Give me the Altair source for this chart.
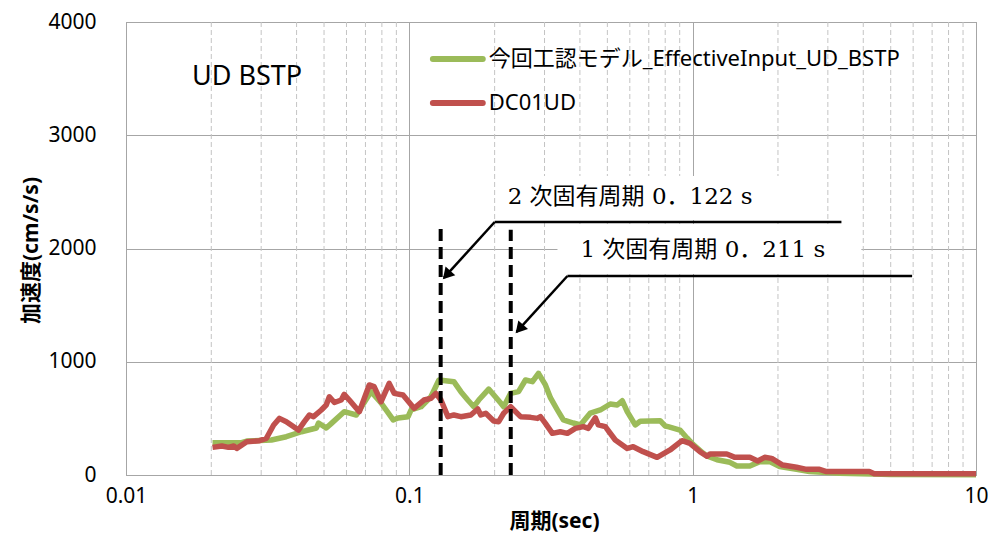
import altair as alt
import pandas as pd

# ---------------- data ----------------
green_period = [0.0202, 0.0256, 0.0267, 0.0326, 0.0368, 0.0416, 0.0470, 0.0478, 0.0509,
                0.0531, 0.0589, 0.0650, 0.0733, 0.0795, 0.0877, 0.0913, 0.0990, 0.1014,
                0.110, 0.1192, 0.1272, 0.1436, 0.1520, 0.1608, 0.1688, 0.1758, 0.1906,
                0.2101, 0.2153, 0.2278, 0.2429, 0.2570, 0.2720, 0.2856, 0.3022, 0.3150,
                0.3331, 0.3496, 0.3792, 0.4015, 0.4354, 0.4722, 0.5119, 0.5418, 0.5642,
                0.5875, 0.6269, 0.6528, 0.7674, 0.7992, 0.8188, 0.9022, 0.955, 1.0025,
                1.087, 1.123, 1.218, 1.353, 1.432, 1.591, 1.725, 1.870, 2.028, 2.326,
                2.585, 3.296, 4.305, 5.0, 10.0]
green_accel = [285, 285, 300, 309, 338, 382, 415, 459, 415,
               456, 559, 530, 736, 636, 486, 503, 515, 574,
               603, 691, 839, 824, 736, 662, 603, 662, 759,
               636, 603, 721, 736, 839, 824, 898, 795, 680,
               574, 486, 459, 442, 547, 574, 627, 618, 656,
               559, 442, 475, 480, 433, 427, 397, 327, 270,
               194, 168, 135, 112, 80, 80, 118, 118, 74, 50,
               30, 15, 8, 4, 3]

red_period = [0.0202, 0.0218, 0.0230, 0.0240, 0.0246, 0.0267, 0.0296, 0.0313, 0.0332,
              0.0348, 0.0368, 0.0406, 0.0426, 0.0444, 0.0459, 0.0489, 0.0509, 0.0522,
              0.0544, 0.0575, 0.0589, 0.0614, 0.0666, 0.0722, 0.0751, 0.0795, 0.0849,
              0.0884, 0.0950, 0.1039, 0.1126, 0.1192, 0.1241, 0.1293, 0.1368, 0.1436,
              0.1520, 0.1648, 0.1744, 0.1787, 0.1861, 0.1985, 0.2067, 0.2153, 0.2278,
              0.2469, 0.2679, 0.2833, 0.2902, 0.3022, 0.3198, 0.3412, 0.3612, 0.3853,
              0.4114, 0.4284, 0.4534, 0.4645, 0.4916, 0.5331, 0.5875, 0.6169, 0.6688,
              0.7489, 0.8323, 0.9171, 0.978, 1.061, 1.123, 1.151, 1.320, 1.409, 1.591,
              1.697, 1.795, 1.900, 2.078, 2.326, 2.523, 2.803, 2.967, 4.202, 4.375, 10.0]
red_accel = [244, 256, 244, 256, 235, 294, 303, 324, 442,
             500, 471, 397, 471, 530, 515, 574, 618, 691,
             640, 662, 712, 662, 559, 795, 780, 647, 809,
             721, 706, 589, 662, 677, 721, 662, 515, 530,
             515, 530, 583, 530, 545, 477, 471, 545, 603,
             515, 509, 500, 515, 456, 368, 382, 368, 412,
             427, 412, 505, 442, 427, 309, 235, 250, 206,
             156, 221, 303, 280, 206, 165, 185, 185, 156, 156,
             124, 156, 147, 88, 68, 50, 50, 30, 30, 10, 10]

series_names = ["今回工認モデル_EffectiveInput_UD_BSTP", "DC01UD"]
series_colors = ["#9BBB59", "#C0504D"]

x_major = [0.01, 0.1, 1, 10]
x_minor = [0.02, 0.03, 0.04, 0.05, 0.06, 0.07, 0.08, 0.09,
           0.2, 0.3, 0.4, 0.5, 0.6, 0.7, 0.8, 0.9,
           2, 3, 4, 5, 6, 7, 8, 9]
y_ticks = [0, 1000, 2000, 3000, 4000]
x_title = "周期(sec)"
y_title = "加速度(cm/s/s)"

# natural-period markers (as drawn) and their annotations
mode_line_period = [0.129, 0.228]
mode_line_top = [2200, 2165]
mode_labels = ["2 次固有周期 0．122  s", "1 次固有周期 0．211  s"]
mode_label_x = [0.2223, 0.4015]
mode_label_y = [2455, 1987]
box_x = [0.2046, 0.3333]
box_x2 = [2.384, 3.939]
box_y = [2640, 2216]
box_y2 = [2252, 1775]
leader_x = [0.2001, 0.2001, 0.3614, 0.3614]
leader_x2 = [3.35, 0.1324, 5.95, 0.2391]
leader_y = [2234, 2234, 1757, 1757]
leader_y2 = [2234, 1740, 1757, 1263]
arrow_x = [0.1368, 0.2471]
arrow_y = [1778, 1302]

legend_x = [0.1211, 0.1211]
legend_x2 = [0.1816, 0.1816]
legend_text_x = [0.1906, 0.1906]
legend_y = [3673, 3285]

panel_title = "UD BSTP"
panel_title_x = [0.0171]
panel_title_y = [3514]

# ---------------- tables ----------------
green_df = pd.DataFrame({"x": green_period, "y": green_accel})
red_df = pd.DataFrame({"x": red_period, "y": red_accel})
minor_df = pd.DataFrame({"x": x_minor})
mode_df = pd.DataFrame({"x": mode_line_period, "y": [0, 0], "y2": mode_line_top})
label_df = pd.DataFrame({"x": mode_label_x, "y": mode_label_y, "txt": mode_labels})
box_df = pd.DataFrame({"x": box_x, "x2": box_x2, "y": box_y, "y2": box_y2})
leader_df = pd.DataFrame({"x": leader_x, "x2": leader_x2, "y": leader_y, "y2": leader_y2})
arrow_df = pd.DataFrame({"x": arrow_x, "y": arrow_y})
legend_df = pd.DataFrame({"x": legend_x, "x2": legend_x2, "tx": legend_text_x,
                          "y": legend_y, "s": series_names, "c": series_colors})
title_df = pd.DataFrame({"x": panel_title_x, "y": panel_title_y, "txt": [panel_title]})

SANS = "'Noto Sans', 'Noto Sans CJK JP', sans-serif"
SERIF = "'DejaVu Serif', 'Noto Sans CJK JP', serif"

xs = alt.Scale(type="log", domain=[0.01, 10], nice=False)
ys = alt.Scale(domain=[0, 4000], nice=False, zero=True)

x_axis = alt.Axis(values=x_major, format="~g", title=x_title, grid=True,
                  gridColor="#A6A6A6", gridWidth=1, ticks=False, domain=False,
                  labelFont=SANS, labelFontSize=21, labelColor="#000",
                  labelPadding=10, labelFlush=False, labelOverlap=False,
                  titleFont=SANS, titleFontSize=21, titleFontWeight="bold",
                  titleColor="#000", titleY=35, titleX=428)
y_axis = alt.Axis(values=y_ticks, format="d", title=y_title, grid=True,
                  gridColor="#A6A6A6", gridWidth=1, ticks=False, domain=False,
                  labelFont=SANS, labelFontSize=21, labelColor="#000",
                  labelPadding=30,
                  titleFont=SANS, titleFontSize=21, titleFontWeight="bold",
                  titleColor="#000", titleX=-85, titleY=228)


def X(field="x"):
    return alt.X(f"{field}:Q", scale=xs, axis=x_axis, title=x_title)


def Y(field="y"):
    return alt.Y(f"{field}:Q", scale=ys, axis=y_axis, title=y_title)


minor = alt.Chart(minor_df).mark_rule(color="#C4C4C4", strokeDash=[5, 3], strokeWidth=1).encode(
    x=X(), y=alt.value(0), y2=alt.value(453),
)

yaxis_layer = alt.Chart(pd.DataFrame({"x": [0.01], "y": [0]})).mark_point(opacity=0).encode(
    x=X(), y=Y(),
)

boxes = alt.Chart(box_df).mark_rect(color="white").encode(
    x=X(), x2="x2:Q", y=Y(), y2="y2:Q",
)

green_line = alt.Chart(green_df).mark_line(strokeWidth=5.5, strokeJoin="round",
                                           color=series_colors[0]).encode(x=X(), y=Y())
red_line = alt.Chart(red_df).mark_line(strokeWidth=5.5, strokeJoin="round",
                                       color=series_colors[1]).encode(x=X(), y=Y())

modes = alt.Chart(mode_df).mark_rule(color="black", strokeWidth=4, strokeDash=[12, 6]).encode(
    x=X(), y=Y(), y2="y2:Q",
)

leaders = alt.Chart(leader_df).mark_rule(color="black", strokeWidth=2.5).encode(
    x=X(), x2="x2:Q", y=Y(), y2="y2:Q",
)

arrows = alt.Chart(arrow_df).mark_point(shape="triangle", filled=True, color="black",
                                        size=170, angle=222, opacity=1).encode(
    x=X(), y=Y(),
)

labels = alt.Chart(label_df).mark_text(font=SERIF, fontSize=23, align="left",
                                       baseline="middle", color="#000").encode(
    x=X(), y=Y(), text="txt:N",
)

legend_lines = alt.Chart(legend_df).mark_rule(strokeWidth=6, strokeCap="round").encode(
    x=X(), x2="x2:Q", y=Y(),
    color=alt.Color("c:N", scale=None, legend=None),
)
legend_text = alt.Chart(legend_df).mark_text(font=SANS, fontSize=22, align="left",
                                             baseline="middle", color="#000").encode(
    x=X("tx"), y=Y(), text="s:N",
)

panel_text = alt.Chart(title_df).mark_text(font=SANS, fontSize=27, align="left",
                                           baseline="middle", color="#000").encode(
    x=X(), y=Y(), text="txt:N",
)

chart = alt.layer(
    minor, yaxis_layer, boxes, green_line, red_line, modes, leaders, arrows,
    labels, legend_lines, legend_text, panel_text,
).properties(
    width=850, height=453,
    autosize=alt.AutoSizeParams(type="none"),
    padding={"left": 118, "top": 14, "right": 12, "bottom": 60},
    background="white",
).configure_view(stroke="#8C8C8C", strokeWidth=1)

chart.save("out.html", embed_options={"renderer": "svg", "actions": False})
